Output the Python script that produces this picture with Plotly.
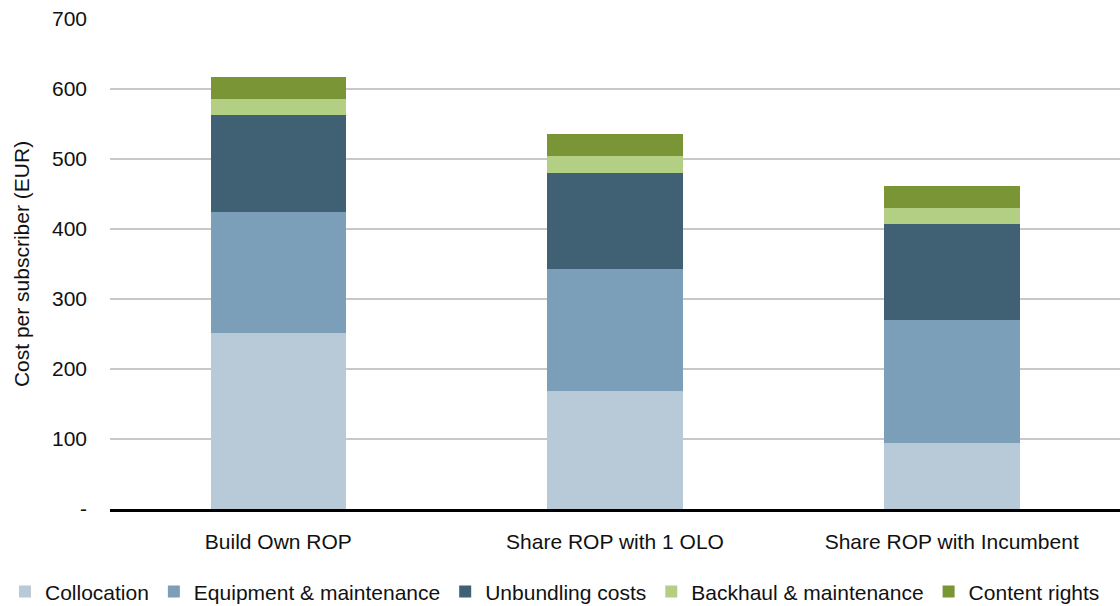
import plotly.graph_objects as go

# Cost per subscriber by deployment scenario (EUR)
scenarios = ["Build Own ROP", "Share ROP with 1 OLO", "Share ROP with Incumbent"]
collocation = [252, 169, 94]
equipment = [172, 174, 176]
unbundling = [139, 137, 137]
backhaul = [23, 24, 23]
content = [31, 32, 31]

y_ticks = [0, 100, 200, 300, 400, 500, 600, 700]
y_tick_labels = ["-", "100", "200", "300", "400", "500", "600", "700"]

series = [
    ("Collocation", collocation, "#b8c9d8"),
    ("Equipment & maintenance", equipment, "#7b9fb8"),
    ("Unbundling costs", unbundling, "#406074"),
    ("Backhaul & maintenance", backhaul, "#b3cf83"),
    ("Content rights", content, "#7a9536"),
]

fig = go.Figure()
for name, vals, color in series:
    fig.add_trace(go.Bar(
        x=scenarios, y=vals, name=name,
        marker=dict(color=color, line=dict(width=0)),
    ))

font_family = "Liberation Sans, Arial, sans-serif"
fs = 21

fig.update_layout(
    barmode="stack",
    bargap=0.597,
    width=1120, height=606,
    margin=dict(l=110, r=0, t=19, b=97, autoexpand=False),
    plot_bgcolor="white", paper_bgcolor="white",
    font=dict(family=font_family, size=fs, color="#111111"),
    showlegend=True,
    legend=dict(
        orientation="h", x=-0.104, xanchor="left",
        y=-0.169, yanchor="middle",
        font=dict(size=21), traceorder="normal",
        itemwidth=30, bgcolor="rgba(0,0,0,0)",
    ),
    xaxis=dict(
        showline=True, linecolor="black", linewidth=3,
        showgrid=False, ticks="", tickfont=dict(size=fs),
        ticklabelstandoff=12,
    ),
    yaxis=dict(
        range=[0, 700], tickvals=y_ticks, ticktext=y_tick_labels,
        showgrid=True, gridcolor="#c8c8c8", gridwidth=1.5,
        zeroline=False, showline=False, ticks="",
        tickfont=dict(size=fs), ticklabelstandoff=22,
        title=dict(text="Cost per subscriber (EUR)", font=dict(size=fs), standoff=16),
    ),
)

fig.write_html("out.html")
